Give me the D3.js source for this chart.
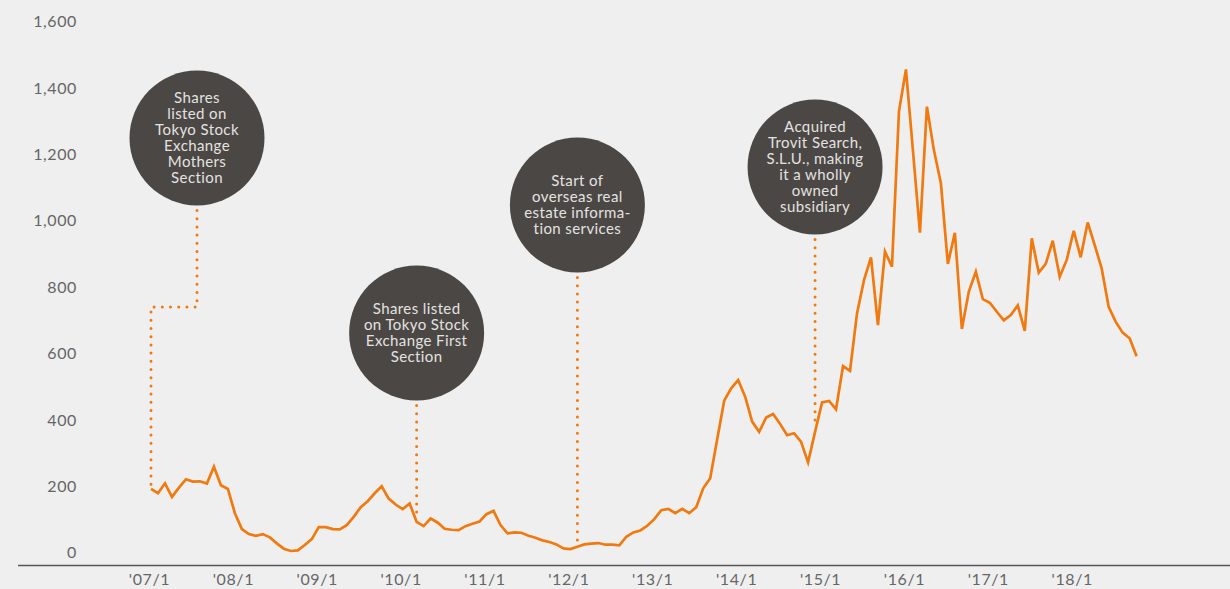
<!DOCTYPE html>
<html>
<head>
<meta charset="utf-8">
<script src="https://cdn.jsdelivr.net/npm/d3@7"></script>
<style>
  html, body { margin: 0; padding: 0; background: #efefef; }
  svg { display: block; }
</style>
</head>
<body>
<svg id="chart" width="1230" height="589"></svg>
<script>
// Monthly closing share price (yen), January 2007 through October 2018
const sharePrice = [
  190, 177, 207, 166, 194, 219, 212, 213, 206, 257, 201, 190,   // 2007
  117,  69,  54,  49,  54,  44,  26,  10,   3,   5,  21,  39,   // 2008
   75,  75,  69,  68,  81, 106, 135, 153, 177, 198, 161, 143,   // 2009
  129, 146,  91,  78, 101,  89,  70,  67,  66,  78,  85,  92,   // 2010
  114, 124,  81,  56,  59,  58,  49,  43,  35,  30,  23,  11,   // 2011
    9,  16,  23,  25,  27,  22,  22,  20,  46,  59,  65,  79,   // 2012
   99, 126, 130, 117, 130, 117, 135, 192, 222, 340, 456, 493,   // 2013
  518, 468, 393, 362, 405, 416, 386, 352, 358, 332, 270, 362,   // 2014
  451, 455, 430, 560, 546, 719, 819, 888, 684, 905, 860, 1327,  // 2015
  1454, 1210, 962, 1342, 1211, 1111, 868, 962, 672, 785, 845, 762, // 2016
  751, 724, 698, 714, 743, 666, 945, 842, 868, 938, 829, 880,   // 2017
  968, 888, 993, 925, 855, 739, 694, 661, 644, 590              // 2018
];

const yTickValues = [0, 200, 400, 600, 800, 1000, 1200, 1400, 1600];
const xTickLabels = ["'07/1", "'08/1", "'09/1", "'10/1", "'11/1", "'12/1",
                     "'13/1", "'14/1", "'15/1", "'16/1", "'17/1", "'18/1"];
const xTickMonths = xTickLabels.map((_, i) => i * 12);

// Milestones: month index (from Jan 2007) and the caption lines
const milestoneMonths = [0, 38, 61, 95];
const milestoneCaptions = [
  ["Shares", "listed on", "Tokyo Stock", "Exchange", "Mothers", "Section"],
  ["Shares listed", "on Tokyo Stock", "Exchange First", "Section"],
  ["Start of", "overseas real", "estate informa-", "tion services"],
  ["Acquired", "Trovit Search,", "S.L.U., making", "it a wholly", "owned", "subsidiary"]
];

// ---- layout ----
const W = 1230, H = 589;
const orange = "#f07a10";
const bubbleFill = "#4b4745";
const bubbleR = 67.5;
const bubbleCY = [138, 333, 205, 167];
const bubbleShiftX = [46, 0, 0, 0];   // first bubble sits to the right with an elbow
const elbowY = 307;

const svg = d3.select("#chart");
svg.append("rect").attr("width", W).attr("height", H).attr("fill", "#efefef");

const x = d3.scaleLinear().domain([0, 132]).range([151, 1073.7]);
const y = d3.scaleLinear().domain([0, 1600]).range([552, 21]);

// y axis labels (no axis line)
const yAxis = d3.axisLeft(y).tickValues(yTickValues).tickSize(0).tickPadding(0)
  .tickFormat(d3.format(","));
const gy = svg.append("g").attr("transform", "translate(77,0)").call(yAxis);
gy.select(".domain").remove();
gy.selectAll("text")
  .attr("font-family", "Lato, 'Open Sans', sans-serif")
  .attr("font-size", 16)
  .attr("fill", "#666")
  .attr("letter-spacing", "0.6px")
  .attr("dy", "0.36em");

// baseline rule
svg.append("line")
  .attr("x1", 18).attr("x2", W)
  .attr("y1", 565.5).attr("y2", 565.5)
  .attr("stroke", "#555").attr("stroke-width", 1.6);

// x axis labels
const xAxis = d3.axisBottom(x).tickValues(xTickMonths).tickSize(0).tickPadding(0)
  .tickFormat((d, i) => xTickLabels[i]);
const gx = svg.append("g").attr("transform", "translate(-2,573)").call(xAxis);
gx.select(".domain").remove();
gx.selectAll("text")
  .attr("font-family", "Lato, 'Open Sans', sans-serif")
  .attr("font-size", 16)
  .attr("fill", "#666")
  .attr("letter-spacing", "0.6px")
  .attr("dy", "0.75em");

// dotted leader lines from each bubble to the price line
const leaders = milestoneMonths.map((m, i) => {
  const px = x(m), py = y(sharePrice[m]) - 4;
  const bx = px + bubbleShiftX[i];
  const top = bubbleCY[i] + bubbleR + 5;
  if (bubbleShiftX[i] !== 0) {
    return [[bx, top], [bx, elbowY], [px, elbowY], [px, py]];
  }
  return [[bx, top], [bx, py]];
});
svg.append("g").selectAll("path")
  .data(leaders)
  .join("path")
  .attr("d", d3.line())
  .attr("fill", "none")
  .attr("stroke", orange)
  .attr("stroke-width", 3)
  .attr("stroke-linecap", "round")
  .attr("stroke-dasharray", "0 8.2");

// price line
svg.append("path")
  .datum(sharePrice)
  .attr("d", d3.line().x((d, i) => x(i)).y(d => y(d)))
  .attr("fill", "none")
  .attr("stroke", orange)
  .attr("stroke-width", 2.7)
  .attr("stroke-linejoin", "miter");

// milestone bubbles
const bubbles = svg.append("g").selectAll("g")
  .data(milestoneMonths)
  .join("g")
  .attr("transform", (m, i) => `translate(${x(m) + bubbleShiftX[i]},${bubbleCY[i]})`);

bubbles.append("circle")
  .attr("r", bubbleR)
  .attr("fill", bubbleFill);

bubbles.each(function (m, i) {
  const lines = milestoneCaptions[i];
  const lh = 16;
  d3.select(this).selectAll("text")
    .data(lines)
    .join("text")
    .attr("text-anchor", "middle")
    .attr("y", (d, j) => (j - (lines.length - 1) / 2) * lh)
    .attr("dy", "0.36em")
    .attr("font-family", "Lato, 'Open Sans', sans-serif")
    .attr("font-size", 15)
    .attr("letter-spacing", "0.4px")
    .attr("fill", "#e4e2e0")
    .text(d => d);
});
</script>
</body>
</html>
